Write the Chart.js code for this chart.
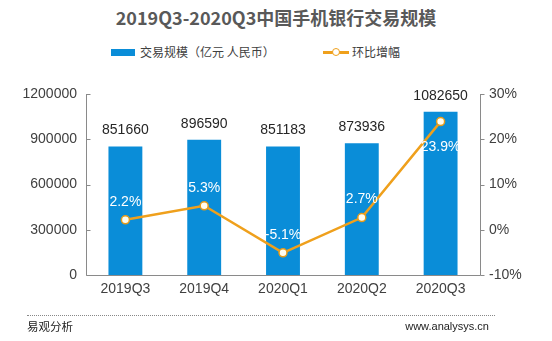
<!DOCTYPE html>
<html><head><meta charset="utf-8">
<script src="https://cdn.jsdelivr.net/npm/chart.js@4/dist/chart.umd.min.js"></script>
<style>
html,body{margin:0;padding:0;background:#fff;width:552px;height:341px;overflow:hidden;position:relative;font-family:"Noto Sans CJK SC","Liberation Sans",sans-serif;}
#c{position:absolute;left:0;top:0;}
.t{position:absolute;white-space:nowrap;color:#404040;}
#title{left:0;width:552px;text-align:center;top:4px;font-size:18px;font-weight:bold;color:#595959;line-height:26px;}
#lg1box{position:absolute;left:111px;top:49px;width:24px;height:7px;background:#0A8DD8;}
#lg1{left:140px;top:43px;font-size:12px;line-height:18px;}
#lg2line{position:absolute;left:323px;top:51px;width:26px;height:3px;background:#EFA01C;}
#lg2dot{position:absolute;left:332px;top:48px;width:6px;height:6px;border:1.5px solid #EFA01C;border-radius:50%;background:#fff;}
#lg2{left:352px;top:43px;font-size:12px;line-height:18px;}
#dots{position:absolute;left:27px;top:315px;width:468px;border-top:1px dotted #888;}
#f1{left:27px;top:318px;font-size:11.5px;line-height:16px;color:#222;}
#f2{right:63px;top:318px;font-size:11px;line-height:16px;color:#222;font-family:"Liberation Sans",sans-serif;}
</style></head>
<body>
<div id="title" class="t">2019Q3-2020Q3中国手机银行交易规模</div>
<div id="lg1box"></div><div id="lg1" class="t">交易规模（亿元 人民币）</div>
<div id="lg2line"></div><div id="lg2dot"></div><div id="lg2" class="t">环比增幅</div>
<canvas id="c" width="552" height="341"></canvas>
<div id="dots"></div>
<div id="f1" class="t">易观分析</div>
<div id="f2" class="t">www.analysys.cn</div>
<script>
const categories = ["2019Q3","2019Q4","2020Q1","2020Q2","2020Q3"];
const volume = [851660, 896590, 851183, 873936, 1082650];
const growth = [2.2, 5.3, -5.1, 2.7, 23.9];
const leftTicks = [0, 300000, 600000, 900000, 1200000];
const rightTicks = [-10, 0, 10, 20, 30];

const FONT = '"Liberation Sans", "Noto Sans CJK SC", sans-serif';
const AXIS = '#8a8a8a';

const labelPlugin = {
  id: 'labels',
  afterDatasetsDraw(chart) {
    const ctx = chart.ctx;
    ctx.save();
    ctx.font = '14px ' + FONT;
    ctx.textAlign = 'center';
    ctx.textBaseline = 'middle';
    const m0 = chart.getDatasetMeta(0);
    m0.data.forEach((b, i) => {
      ctx.fillStyle = '#262626';
      ctx.fillText(String(volume[i]), b.x, b.y - 16);
    });
    const m1 = chart.getDatasetMeta(1);
    m1.data.forEach((p, i) => {
      ctx.fillStyle = '#ffffff';
      const dy = (i === growth.length - 1) ? 26 : -18;
      ctx.fillText(growth[i].toFixed(1) + '%', p.x, p.y + dy);
    });
    ctx.restore();
  },
  afterDraw(chart) {
    const ctx = chart.ctx, a = chart.chartArea;
    const yl = chart.scales.y, yr = chart.scales.y1;
    ctx.save();
    ctx.strokeStyle = AXIS;
    ctx.lineWidth = 1;
    ctx.beginPath();
    ctx.moveTo(Math.round(a.left) + 0.5, a.top);
    ctx.lineTo(Math.round(a.left) + 0.5, Math.round(a.bottom) + 0.5);
    ctx.lineTo(Math.round(a.right) + 0.5, Math.round(a.bottom) + 0.5);
    ctx.moveTo(Math.round(a.right) + 0.5, a.top);
    ctx.lineTo(Math.round(a.right) + 0.5, Math.round(a.bottom) + 0.5);
    leftTicks.forEach(v => {
      const y = Math.round(yl.getPixelForValue(v)) + 0.5;
      ctx.moveTo(Math.round(a.left) + 0.5, y); ctx.lineTo(Math.round(a.left) + 4.5, y);
    });
    rightTicks.forEach(v => {
      const y = Math.round(yr.getPixelForValue(v)) + 0.5;
      ctx.moveTo(Math.round(a.right) + 0.5, y); ctx.lineTo(Math.round(a.right) + 4.5, y);
    });
    ctx.stroke();
    ctx.restore();
  }
};

new Chart(document.getElementById('c'), {
  data: {
    labels: categories,
    datasets: [
      { type: 'bar', label: '交易规模（亿元 人民币）', data: volume, yAxisID: 'y',
        backgroundColor: '#0A8DD8', barPercentage: 0.43, categoryPercentage: 1, order: 2 },
      { type: 'line', label: '环比增幅', data: growth, yAxisID: 'y1',
        borderColor: '#EFA01C', borderWidth: 2.5, pointRadius: 4, pointBorderWidth: 1.5,
        pointBackgroundColor: '#FFFDF0', pointBorderColor: '#E39A1A', tension: 0, order: 1 }
    ]
  },
  options: {
    responsive: false, animation: false,
    layout: { padding: { top: 94, left: 0, right: 0, bottom: 0 } },
    plugins: { legend: { display: false }, title: { display: false }, tooltip: { enabled: false } },
    scales: {
      x: {
        grid: { display: false, drawTicks: false }, border: { display: false },
        ticks: { color: '#404040', font: { size: 14, family: FONT }, padding: 6 },
        afterFit(s) { s.height = 66; s.paddingLeft = 0; s.paddingRight = 0; }
      },
      y: {
        position: 'left', min: 0, max: 1200000,
        afterBuildTicks(s) { s.ticks = leftTicks.map(v => ({ value: v })); },
        grid: { display: false, drawTicks: false }, border: { display: false },
        ticks: { color: '#404040', font: { size: 14, family: FONT }, padding: 9, callback: v => String(v) },
        afterFit(s) { s.width = 86; s.paddingTop = 0; s.paddingBottom = 0; }
      },
      y1: {
        position: 'right', min: -10, max: 30,
        afterBuildTicks(s) { s.ticks = rightTicks.map(v => ({ value: v })); },
        grid: { display: false, drawTicks: false }, border: { display: false },
        ticks: { color: '#404040', font: { size: 14, family: FONT }, padding: 9, callback: v => v + '%' },
        afterFit(s) { s.width = 72; s.paddingTop = 0; s.paddingBottom = 0; }
      }
    }
  },
  plugins: [labelPlugin]
});
</script>
</body></html>
